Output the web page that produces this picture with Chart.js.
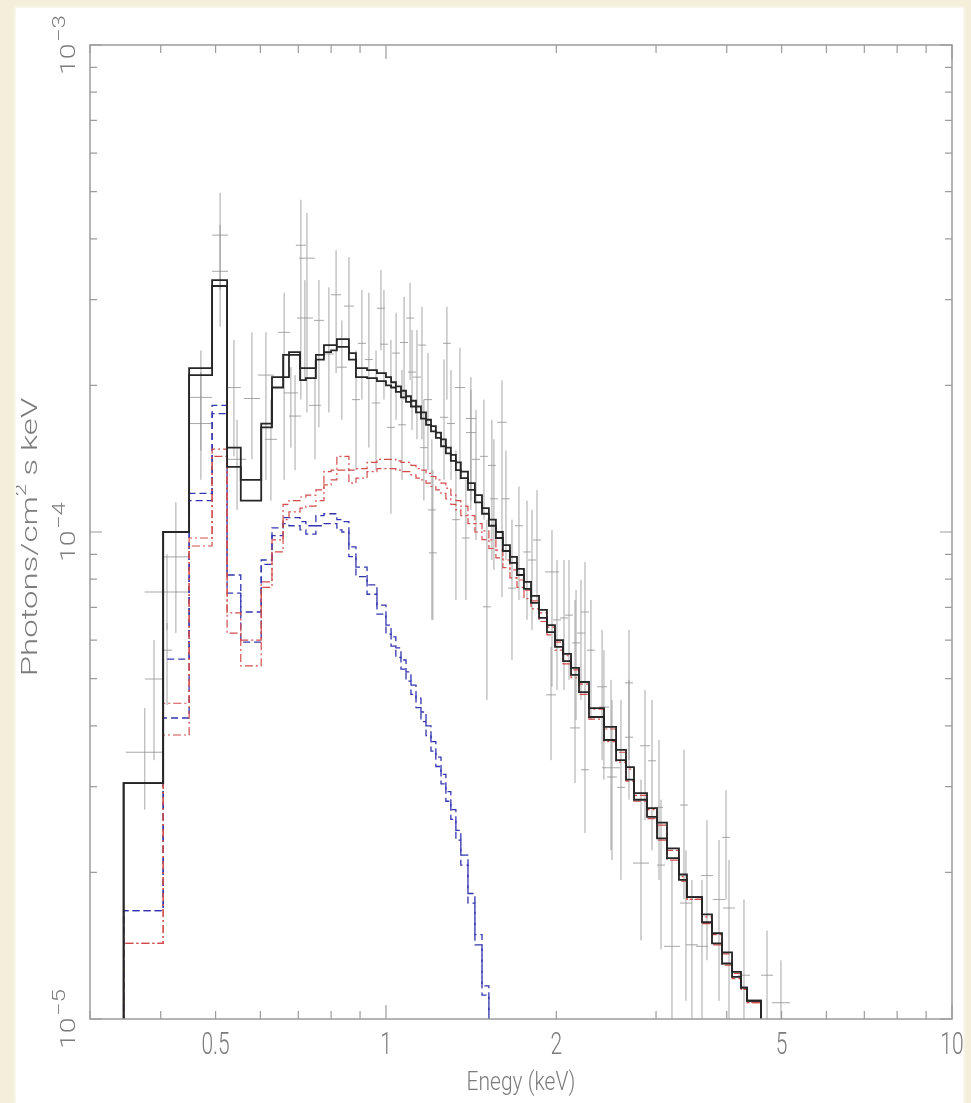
<!DOCTYPE html>
<html>
<head>
<meta charset="utf-8">
<title>Spectrum</title>
<script src="https://cdn.jsdelivr.net/npm/chart.js@4/dist/chart.umd.min.js"></script>
<style>
  html, body { margin: 0; padding: 0; background: #f4efda; width: 971px; height: 1103px; overflow: hidden; }
  #panel { position: absolute; left: 16px; top: 8px; width: 947px; height: 1095px; background: #fff;
           box-shadow: 0 0 3px 1px rgba(255,255,255,0.85); }
  #spec { position: absolute; left: 0; top: 0; }
</style>
</head>
<body>
<div id="panel"><canvas id="spec" width="947" height="1095"></canvas></div>
<script>
// ---- model bin edges (keV) ----
const energyEdgesA = [0.344, 0.404, 0.449, 0.493, 0.524, 0.554, 0.602, 0.629, 0.658, 0.674,
  0.705, 0.722, 0.752, 0.777, 0.800, 0.819, 0.836, 0.860, 0.885, 0.926,
  0.964, 1.000, 1.021, 1.041, 1.063, 1.085, 1.107, 1.130, 1.153, 1.177,
  1.201, 1.225, 1.251, 1.276, 1.302, 1.329, 1.356, 1.396, 1.436, 1.478,
  1.520, 1.564, 1.609, 1.656, 1.704, 1.753, 1.804, 1.864, 1.925, 1.989,
  2.055, 2.123, 2.193, 2.284, 2.428, 2.550, 2.655, 2.743, 2.892, 3.012,
  3.137, 3.293, 3.402, 3.617, 3.767, 3.924, 4.087, 4.239, 4.344, 4.599];
const energyEdgesB = [0.344, 0.404, 0.449, 0.493, 0.524, 0.554, 0.602, 0.629, 0.658, 0.674,
  0.705, 0.722, 0.752, 0.777, 0.800, 0.819, 0.836, 0.860, 0.885, 0.926,
  0.964, 1.000, 1.021, 1.041, 1.063, 1.085, 1.107, 1.130, 1.153, 1.177,
  1.201, 1.225, 1.251, 1.276, 1.302, 1.329, 1.356, 1.396, 1.436, 1.478,
  1.520, 1.564, 1.609, 1.656, 1.704, 1.753, 1.804, 1.864, 1.925, 1.989,
  2.055, 2.123, 2.193, 2.284, 2.428, 2.550, 2.655, 2.743, 2.892, 3.012,
  3.137, 3.293, 3.402, 3.617, 3.767, 3.924, 4.087, 4.239, 4.344, 4.599];
// the soft component stops at 1.52 keV
const softEdgesA = energyEdgesA.slice(0, 41);
const softEdgesB = energyEdgesB.slice(0, 41);

// ---- total model (photons / cm^2 s keV) ----
const totalModelA = [3.05e-5, 1.00e-4, 2.17e-4, 3.29e-4, 1.49e-4, 1.16e-4, 1.67e-4, 2.08e-4, 2.31e-4, 2.34e-4,
  2.17e-4, 2.17e-4, 2.31e-4, 2.42e-4, 2.42e-4, 2.49e-4, 2.49e-4, 2.33e-4, 2.17e-4, 2.15e-4,
  2.12e-4, 2.08e-4, 2.03e-4, 1.99e-4, 1.95e-4, 1.90e-4, 1.86e-4, 1.81e-4, 1.76e-4, 1.70e-4,
  1.65e-4, 1.60e-4, 1.55e-4, 1.49e-4, 1.44e-4, 1.39e-4, 1.33e-4, 1.26e-4, 1.19e-4, 1.12e-4,
  1.06e-4, 1.00e-4, 9.40e-5, 8.89e-5, 8.40e-5, 7.90e-5, 7.39e-5, 6.92e-5, 6.44e-5, 6.00e-5,
  5.62e-5, 5.26e-5, 4.92e-5, 4.35e-5, 3.98e-5, 3.57e-5, 3.29e-5, 2.91e-5, 2.71e-5, 2.53e-5,
  2.24e-5, 1.98e-5, 1.78e-5, 1.64e-5, 1.50e-5, 1.37e-5, 1.25e-5, 1.16e-5, 1.09e-5];
const totalModelB = [3.05e-5, 1.00e-4, 2.10e-4, 3.20e-4, 1.36e-4, 1.28e-4, 1.64e-4, 1.98e-4, 2.08e-4, 2.31e-4,
  2.05e-4, 2.07e-4, 2.26e-4, 2.34e-4, 2.36e-4, 2.40e-4, 2.40e-4, 2.26e-4, 2.08e-4, 2.07e-4,
  2.04e-4, 2.00e-4, 1.98e-4, 1.94e-4, 1.89e-4, 1.85e-4, 1.81e-4, 1.76e-4, 1.71e-4, 1.66e-4,
  1.61e-4, 1.56e-4, 1.50e-4, 1.45e-4, 1.40e-4, 1.34e-4, 1.29e-4, 1.22e-4, 1.15e-4, 1.09e-4,
  1.03e-4, 9.72e-5, 9.14e-5, 8.64e-5, 8.16e-5, 7.64e-5, 7.15e-5, 6.66e-5, 6.23e-5, 5.81e-5,
  5.43e-5, 5.09e-5, 4.69e-5, 4.17e-5, 3.74e-5, 3.40e-5, 3.10e-5, 2.82e-5, 2.60e-5, 2.35e-5,
  2.14e-5, 1.93e-5, 1.78e-5, 1.58e-5, 1.43e-5, 1.30e-5, 1.22e-5, 1.16e-5, 1.09e-5];

// ---- hard component (dash-dot) ----
const hardModelA = [1.43e-5, 4.45e-5, 9.72e-5, 1.48e-4, 6.82e-5, 6.00e-5, 7.90e-5, 9.63e-5, 1.14e-4, 1.16e-4,
  1.18e-4, 1.19e-4, 1.22e-4, 1.33e-4, 1.34e-4, 1.43e-4, 1.43e-4, 1.34e-4, 1.35e-4, 1.39e-4,
  1.41e-4, 1.41e-4, 1.41e-4, 1.40e-4, 1.39e-4, 1.39e-4, 1.37e-4, 1.35e-4, 1.34e-4, 1.32e-4,
  1.30e-4, 1.28e-4, 1.26e-4, 1.23e-4, 1.19e-4, 1.16e-4, 1.13e-4, 1.08e-4, 1.04e-4, 1.005e-4,
  9.63e-5, 9.18e-5, 8.76e-5, 8.36e-5, 7.97e-5, 7.60e-5, 7.22e-5, 6.82e-5, 6.38e-5, 5.94e-5,
  5.57e-5, 5.21e-5, 4.87e-5, 4.33e-5, 3.94e-5, 3.53e-5, 3.26e-5, 2.88e-5, 2.69e-5, 2.50e-5,
  2.22e-5, 1.96e-5, 1.76e-5, 1.62e-5, 1.49e-5, 1.36e-5, 1.24e-5, 1.15e-5, 1.08e-5];
const hardModelB = [1.43e-5, 3.83e-5, 9.36e-5, 1.43e-4, 6.20e-5, 5.31e-5, 7.70e-5, 9.10e-5, 1.06e-4, 1.10e-4,
  1.12e-4, 1.13e-4, 1.16e-4, 1.25e-4, 1.28e-4, 1.34e-4, 1.34e-4, 1.26e-4, 1.29e-4, 1.33e-4,
  1.35e-4, 1.35e-4, 1.35e-4, 1.34e-4, 1.33e-4, 1.33e-4, 1.31e-4, 1.29e-4, 1.28e-4, 1.26e-4,
  1.24e-4, 1.22e-4, 1.20e-4, 1.17e-4, 1.14e-4, 1.11e-4, 1.08e-4, 1.04e-4, 1.00e-4, 9.65e-5,
  9.25e-5, 8.85e-5, 8.45e-5, 8.05e-5, 7.70e-5, 7.30e-5, 6.95e-5, 6.55e-5, 6.15e-5, 5.72e-5,
  5.36e-5, 5.02e-5, 4.64e-5, 4.13e-5, 3.71e-5, 3.37e-5, 3.08e-5, 2.80e-5, 2.58e-5, 2.33e-5,
  2.12e-5, 1.92e-5, 1.76e-5, 1.57e-5, 1.42e-5, 1.29e-5, 1.21e-5, 1.15e-5, 1.08e-5];

// ---- soft component (dashed) ----
const softModelA = [1.67e-5, 5.48e-5, 1.20e-4, 1.82e-4, 8.16e-5, 6.85e-5, 8.76e-5, 1.02e-4, 1.07e-4, 1.07e-4,
  1.05e-4, 1.03e-4, 1.08e-4, 1.09e-4, 1.09e-4, 1.06e-4, 1.05e-4, 9.32e-5, 8.47e-5, 7.79e-5,
  7.08e-5, 6.44e-5, 6.09e-5, 5.78e-5, 5.46e-5, 5.16e-5, 4.85e-5, 4.56e-5, 4.27e-5, 4.00e-5,
  3.71e-5, 3.45e-5, 3.18e-5, 2.93e-5, 2.69e-5, 2.44e-5, 2.17e-5, 1.81e-5, 1.49e-5, 1.17e-5];
const softModelB = [1.67e-5, 4.15e-5, 1.16e-4, 1.75e-4, 7.49e-5, 5.94e-5, 8.58e-5, 9.83e-5, 1.04e-4, 1.03e-4,
  1.01e-4, 9.90e-5, 1.03e-4, 1.04e-4, 1.04e-4, 1.01e-4, 1.00e-4, 8.90e-5, 8.10e-5, 7.45e-5,
  6.78e-5, 6.17e-5, 5.83e-5, 5.53e-5, 5.23e-5, 4.94e-5, 4.64e-5, 4.36e-5, 4.08e-5, 3.82e-5,
  3.55e-5, 3.30e-5, 3.04e-5, 2.80e-5, 2.57e-5, 2.33e-5, 2.07e-5, 1.73e-5, 1.42e-5, 1.12e-5];

// ---- unfolded data: bin range (keV), flux and 1-sigma range ----
const dataElo = [0.347, 0.375, 0.402, 0.405, 0.450, 0.450, 0.493, 0.493, 0.524, 0.526,
  0.561, 0.594, 0.611, 0.645, 0.660, 0.674, 0.693, 0.702, 0.696, 0.731,
  0.746, 0.777, 0.800, 0.819, 0.843, 0.871, 0.892, 0.918, 0.945, 0.964,
  0.976, 1.004, 1.025, 1.050, 1.059, 1.085, 1.094, 1.116, 1.139, 1.148,
  1.167, 1.186, 1.191, 1.246, 1.261, 1.282, 1.308, 1.324, 1.362, 1.384,
  1.384, 1.419, 1.466, 1.484, 1.514, 1.526, 1.571, 1.603, 1.643, 1.690,
  1.746, 1.782, 1.819, 1.910, 1.918, 1.973, 2.030, 2.072, 2.114, 2.132,
  2.175, 2.211, 2.211, 2.265, 2.360, 2.378, 2.408, 2.458, 2.559, 2.644,
  2.644, 2.732, 2.811, 2.903, 2.988, 3.012, 3.099, 3.307, 3.307, 3.388,
  3.529, 3.602, 3.782, 3.924, 3.940, 4.187, 4.599, 4.808, 0.375];
const dataEhi = [0.405, 0.404, 0.419, 0.447, 0.493, 0.493, 0.526, 0.526, 0.554, 0.566,
  0.599, 0.634, 0.642, 0.677, 0.699, 0.708, 0.722, 0.749, 0.743, 0.768,
  0.777, 0.809, 0.833, 0.853, 0.878, 0.900, 0.922, 0.948, 0.976, 0.996,
  1.008, 1.037, 1.059, 1.085, 1.094, 1.121, 1.130, 1.153, 1.177, 1.186,
  1.206, 1.225, 1.230, 1.287, 1.302, 1.324, 1.351, 1.379, 1.407, 1.442,
  1.442, 1.466, 1.514, 1.532, 1.564, 1.577, 1.636, 1.656, 1.697, 1.746,
  1.804, 1.841, 1.879, 2.021, 1.997, 2.038, 2.097, 2.140, 2.202, 2.202,
  2.247, 2.284, 2.284, 2.340, 2.458, 2.477, 2.591, 2.559, 2.644, 2.732,
  2.732, 2.915, 2.927, 3.000, 3.086, 3.112, 3.307, 3.416, 3.472, 3.558,
  3.706, 3.782, 3.972, 4.053, 4.136, 4.396, 4.828, 5.173, 0.449];
const dataFlux = [3.53e-5, 4.99e-5, 5.72e-5, 8.89e-5, 1.89e-4, 1.67e-4, 4.07e-4, 3.43e-4, 1.98e-4, 1.41e-4,
  1.88e-4, 2.10e-4, 1.55e-4, 2.57e-4, 1.93e-4, 1.73e-4, 3.88e-4, 3.65e-4, 2.75e-4, 1.82e-4,
  2.72e-4, 2.32e-4, 3.07e-4, 2.18e-4, 2.91e-4, 1.87e-4, 2.44e-4, 2.26e-4, 1.84e-4, 2.88e-4,
  2.43e-4, 1.64e-4, 2.33e-4, 1.66e-4, 2.45e-4, 2.75e-4, 2.13e-4, 2.08e-4, 2.42e-4, 1.49e-4,
  1.87e-4, 1.11e-4, 9.06e-5, 1.72e-4, 2.44e-4, 1.67e-4, 1.06e-4, 1.98e-4, 9.72e-5, 1.71e-4,
  1.60e-4, 1.41e-4, 1.43e-4, 7.02e-5, 1.37e-4, 1.17e-4, 1.68e-4, 1.17e-4, 7.67e-5, 1.03e-4,
  9.10e-5, 8.76e-5, 9.63e-5, 8.28e-5, 4.63e-5, 6.60e-5, 6.66e-5, 6.75e-5, 3.96e-5, 5.92e-5,
  6.20e-5, 6.85e-5, 3.25e-5, 5.72e-5, 4.81e-5, 4.37e-5, 3.28e-5, 3.14e-5, 2.99e-5, 4.90e-5,
  3.79e-5, 2.09e-5, 3.64e-5, 3.39e-5, 2.72e-5, 2.07e-5, 1.41e-5, 2.75e-5, 1.73e-5, 1.42e-5,
  1.41e-5, 1.97e-5, 1.76e-5, 2.36e-5, 1.69e-5, 1.23e-5, 1.23e-5, 1.08e-5, 7.53e-5];
const dataFluxHi = [4.35e-5, 6.00e-5, 6.50e-5, 1.15e-4, 2.36e-4, 2.13e-4, 4.97e-4, 4.27e-4, 2.48e-4, 1.70e-4,
  2.57e-4, 2.57e-4, 1.87e-4, 3.10e-4, 2.18e-4, 2.10e-4, 4.81e-4, 4.52e-4, 3.29e-4, 2.26e-4,
  3.29e-4, 3.18e-4, 3.79e-4, 2.72e-4, 3.67e-4, 2.36e-4, 3.14e-4, 3.10e-4, 2.36e-4, 3.45e-4,
  3.14e-4, 2.48e-4, 2.82e-4, 2.15e-4, 3.04e-4, 3.25e-4, 2.60e-4, 2.60e-4, 2.90e-4, 1.87e-4,
  2.33e-4, 1.55e-4, 1.34e-4, 2.26e-4, 2.90e-4, 2.15e-4, 1.47e-4, 2.39e-4, 1.28e-4, 2.08e-4,
  1.96e-4, 1.78e-4, 1.87e-4, 1.06e-4, 1.70e-4, 1.55e-4, 2.05e-4, 1.47e-4, 1.06e-4, 1.24e-4,
  1.16e-4, 1.11e-4, 1.22e-4, 1.01e-4, 5.81e-5, 8.76e-5, 8.76e-5, 8.76e-5, 7.25e-5, 7.60e-5,
  7.97e-5, 8.68e-5, 4.52e-5, 7.25e-5, 6.29e-5, 5.72e-5, 4.97e-5, 4.52e-5, 4.52e-5, 6.29e-5,
  4.97e-5, 3.10e-5, 4.74e-5, 4.52e-5, 3.74e-5, 2.82e-5, 2.12e-5, 3.57e-5, 2.22e-5, 1.93e-5,
  1.93e-5, 2.56e-5, 2.33e-5, 2.95e-5, 2.12e-5, 1.76e-5, 1.52e-5, 1.32e-5, 9.00e-5];
const dataFluxLo = [2.69e-5, 3.40e-5, 4.41e-5, 6.20e-5, 1.47e-4, 1.28e-4, 3.14e-4, 2.64e-4, 1.43e-4, 1.11e-4,
  1.41e-4, 1.28e-4, 1.16e-4, 1.28e-4, 1.49e-4, 1.34e-4, 1.87e-4, 1.76e-4, 2.05e-4, 1.41e-4,
  1.64e-4, 1.76e-4, 2.12e-4, 1.70e-4, 2.26e-4, 1.34e-4, 1.87e-4, 1.49e-4, 1.34e-4, 2.36e-4,
  1.87e-4, 1.09e-4, 1.70e-4, 1.28e-4, 1.87e-4, 2.05e-4, 1.62e-4, 1.55e-4, 1.55e-4, 1.16e-4,
  1.34e-4, 6.60e-5, 6.60e-5, 1.28e-4, 1.87e-4, 1.28e-4, 7.25e-5, 1.28e-4, 7.25e-5, 1.16e-4,
  1.11e-4, 9.63e-5, 1.06e-4, 4.52e-5, 8.76e-5, 8.36e-5, 7.35e-5, 8.76e-5, 5.46e-5, 7.25e-5,
  6.60e-5, 6.29e-5, 7.25e-5, 4.81e-5, 3.40e-5, 4.74e-5, 4.74e-5, 4.97e-5, 3.05e-5, 4.11e-5,
  4.52e-5, 4.52e-5, 2.41e-5, 4.11e-5, 3.40e-5, 3.10e-5, 2.22e-5, 2.12e-5, 1.93e-5, 3.40e-5,
  2.82e-5, 1.45e-5, 2.56e-5, 2.22e-5, 1.93e-5, 1.39e-5, 9.5e-6, 1.76e-5, 1.09e-5, 9.5e-6,
  9.5e-6, 1.32e-5, 1.09e-5, 1.76e-5, 9.5e-6, 9.5e-6, 9.5e-6, 9.5e-6, 6.30e-5];

// ---- axes ----
const energyRange = [0.3, 10];
const fluxRange = [1e-5, 1e-3];
const xTickValues = [0.5, 1, 2, 5, 10];
const xTickLabels = ['0.5', '1', '2', '5', '10'];
const yTickValues = [1e-5, 1e-4, 1e-3];
const yTickExponents = ['\u22125', '\u22124', '\u22123'];
const xTitle = 'Enegy (keV)';
const yTitleParts = ['Photons/cm', '2', ' s keV'];

const FLOOR = 5e-6; // below the axis, so each histogram drops out of the frame

function histogram(edges, values) {
  const pts = [{ x: edges[0], y: FLOOR }];
  values.forEach((v, i) => pts.push({ x: edges[i], y: v }));
  pts.push({ x: edges[edges.length - 1], y: values[values.length - 1] });
  pts.push({ x: edges[edges.length - 1], y: FLOOR });
  return pts;
}

function crosses() {
  const pts = [];
  for (let i = 0; i < dataFlux.length; i++) {
    const mid = Math.sqrt(dataElo[i] * dataEhi[i]);
    pts.push({ x: dataElo[i], y: dataFlux[i] }, { x: dataEhi[i], y: dataFlux[i] }, { x: mid, y: null });
    pts.push({ x: mid, y: dataFluxLo[i] }, { x: mid, y: dataFluxHi[i] }, { x: mid, y: null });
  }
  return pts;
}

const TEXT = '#7c7c7c';
const FONT = 'Roboto, "DejaVu Sans", sans-serif';

function stretched(ctx, text, x, y, rot, sx, sy) {
  ctx.save();
  ctx.translate(x, y);
  ctx.rotate(rot);
  ctx.scale(sx, sy);
  ctx.fillText(text, 0, 0);
  ctx.restore();
}

const frameAndLabels = {
  id: 'frameAndLabels',
  afterDatasetsDraw(chart) {
    const { ctx, chartArea: a, scales: { x, y } } = chart;
    ctx.save();
    // frame
    ctx.strokeStyle = '#9c9c9c';
    ctx.lineWidth = 1.5;
    ctx.strokeRect(a.left, a.top, a.right - a.left, a.bottom - a.top);
    // inward ticks on all four sides
    ctx.lineWidth = 1.2;
    ctx.beginPath();
    [0.1, 1, 10].forEach(dec => {
      for (let m = 1; m <= 9; m++) {
        const v = m * dec;
        if (v < energyRange[0] || v > energyRange[1]) continue;
        const px = x.getPixelForValue(v);
        const len = m === 1 ? 14 : 8;
        ctx.moveTo(px, a.bottom); ctx.lineTo(px, a.bottom - len);
        ctx.moveTo(px, a.top); ctx.lineTo(px, a.top + len);
      }
    });
    [1e-5, 1e-4, 1e-3].forEach(dec => {
      for (let m = 1; m <= 9; m++) {
        const v = m * dec;
        if (v > fluxRange[1] * 1.0001) continue;
        const py = y.getPixelForValue(v);
        const len = m === 1 ? 12 : 7;
        ctx.moveTo(a.left, py); ctx.lineTo(a.left + len, py);
        ctx.moveTo(a.right, py); ctx.lineTo(a.right - len, py);
      }
    });
    ctx.stroke();

    ctx.fillStyle = TEXT;
    ctx.textBaseline = 'middle';
    // x tick labels
    ctx.textAlign = 'center';
    ctx.font = '300 21px ' + FONT;
    xTickValues.forEach((v, i) => {
      stretched(ctx, xTickLabels[i], x.getPixelForValue(v), a.bottom + 27, 0, 1, 1.5);
    });
    // x title
    ctx.font = '300 21px ' + FONT;
    stretched(ctx, xTitle, (a.left + a.right) / 2, a.bottom + 64, 0, 1, 1.25);

    // y tick labels: 10 with a raised exponent, reading upwards
    const sAlong = 1.35;
    yTickValues.forEach((v, i) => {
      const py = y.getPixelForValue(v);
      ctx.save();
      ctx.translate(a.left - 20, py);
      ctx.rotate(-Math.PI / 2);
      ctx.scale(sAlong, 1);
      ctx.textAlign = 'left';
      ctx.font = '300 21px ' + FONT;
      const w1 = ctx.measureText('10').width;
      ctx.font = '300 18px ' + FONT;
      const w2 = ctx.measureText(yTickExponents[i]).width;
      const x0 = -(w1 + w2 + 1) / 2;
      ctx.font = '300 21px ' + FONT;
      ctx.fillText('10', x0, 0);
      ctx.font = '300 18px ' + FONT;
      ctx.fillText(yTickExponents[i], x0 + w1 + 1, -10);
      ctx.restore();
    });

    // y title
    ctx.save();
    ctx.translate(15, (a.top + a.bottom) / 2 + 5);
    ctx.rotate(-Math.PI / 2);
    ctx.scale(1.5, 1);
    ctx.textAlign = 'left';
    ctx.font = '300 22px ' + FONT;
    const t1 = ctx.measureText(yTitleParts[0]).width;
    const t3 = ctx.measureText(yTitleParts[2]).width;
    ctx.font = '300 15px ' + FONT;
    const t2 = ctx.measureText(yTitleParts[1]).width;
    let cx = -(t1 + t2 + t3) / 2;
    ctx.font = '300 22px ' + FONT;
    ctx.fillText(yTitleParts[0], cx, 0); cx += t1;
    ctx.font = '300 15px ' + FONT;
    ctx.fillText(yTitleParts[1], cx, -9); cx += t2;
    ctx.font = '300 22px ' + FONT;
    ctx.fillText(yTitleParts[2], cx, 0);
    ctx.restore();

    ctx.restore();
  }
};

const BLACK = '#262626';
const RED = '#d24c4c';
const BLUE = '#3434b0';
const line = (data, color, width, dash) => ({
  data, showLine: true, stepped: true, borderColor: color, borderWidth: width,
  borderDash: dash, pointRadius: 0, fill: false, spanGaps: false
});

new Chart(document.getElementById('spec'), {
  type: 'scatter',
  data: {
    datasets: [
      line(histogram(energyEdgesA, totalModelA), BLACK, 1.8, []),
      line(histogram(energyEdgesB, totalModelB), BLACK, 1.8, []),
      line(histogram(energyEdgesA, hardModelA), RED, 1.2, [8, 3, 2, 3]),
      line(histogram(energyEdgesB, hardModelB), RED, 1.2, [8, 3, 2, 3]),
      line(histogram(softEdgesA, softModelA), BLUE, 1.3, [7, 4]),
      line(histogram(softEdgesB, softModelB), BLUE, 1.3, [7, 4]),
      {
        data: crosses(), showLine: true, stepped: false, borderColor: 'rgba(145,145,145,0.8)',
        borderWidth: 1, pointRadius: 0, spanGaps: false
      }
    ]
  },
  options: {
    responsive: false,
    animation: false,
    devicePixelRatio: 1,
    layout: { padding: { left: 74, top: 37, right: 11, bottom: 84 } },
    plugins: { legend: { display: false }, tooltip: { enabled: false } },
    scales: {
      x: { type: 'logarithmic', min: energyRange[0], max: energyRange[1], display: false },
      y: { type: 'logarithmic', min: fluxRange[0], max: fluxRange[1], display: false }
    }
  },
  plugins: [frameAndLabels]
});
</script>
</body>
</html>
